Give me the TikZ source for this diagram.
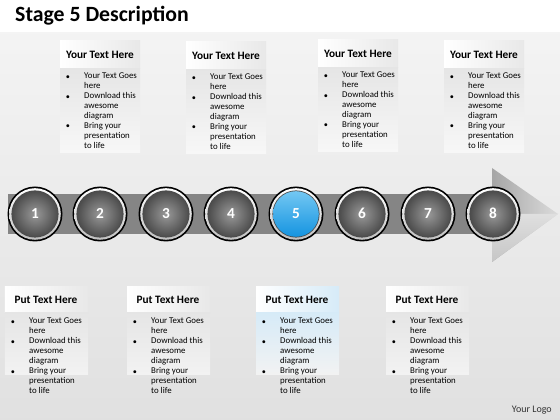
\documentclass[tikz,border=0pt]{standalone}
\usepackage{fontspec}
\setmainfont{Carlito}
\usetikzlibrary{positioning}
\definecolor{shaftdark}{rgb}{0.52, 0.52, 0.52}
\definecolor{shaftlight}{rgb}{0.85, 0.85, 0.85}
\definecolor{knobdark}{rgb}{0.3, 0.3, 0.3}
\definecolor{knoblight}{rgb}{0.6, 0.6, 0.6}
\definecolor{bluedark}{rgb}{0.08, 0.58, 0.88}
\definecolor{bluelight}{rgb}{0.45, 0.78, 0.95}
\definecolor{paleblue}{rgb}{0.84, 0.92, 0.97}
\tikzset{
  headtext/.style = {font = \bfseries\fontsize{9.6}{11}\selectfont, inner sep = 0},
  bodytext/.style = {font = \fontsize{7.5}{8.45}\selectfont, align = left, anchor = north west, inner sep = 0},
  dot/.style = {font = \fontsize{7}{8.45}\selectfont, inner sep = 0},
  stage/.style = {circle, inner sep = 0, minimum size = 46pt, text height = 8.5pt, text depth = 0pt, font = \bfseries\fontsize{13}{14}\selectfont, text = white}
}
\newcommand{\bodylines}{Your Text Goes\\here\\Download this\\awesome\\diagram\\Bring your\\presentation\\to life}

\begin{document}
\begin{tikzpicture}[x = 0.85pt, y = 0.85pt]
  \useasboundingbox (0, 0) rectangle (560, 420);
  \fill [white] (0, 0) rectangle (560, 420);
  \shade [top color = gray!9, bottom color = gray!24] (0, 0) rectangle (560, 387);

  \node [anchor = base west, inner sep = 0, font = \bfseries\fontsize{18.5}{20}\selectfont] (title) at (15, 398) {Stage 5 Description};

  % upper boxes
  \foreach \x/\y/\n in {60/379/1, 186/378/2, 318/380/3, 444/379/4} {
    \shade [left color = white, right color = gray!18] (\x, \y) rectangle (\x + 80, \y - 28);
    \shade [top color = gray!20, bottom color = gray!6] (\x, \y - 28) rectangle (\x + 80, \y - 112);
    \node [headtext] (th\n) at (\x + 40, \y - 14) {Your Text Here};
    \node [bodytext] (tb\n) at (\x + 24, \y - 32) {\bodylines};
    \foreach \k in {0, 2, 5} {
      \node [dot] at (\x + 8, \y - 36.5 - 9.9 * \k) {•};
    }
  }

  % lower boxes
  \foreach \x/\hc/\bc/\n in {5/gray!18/gray!20/1, 127/gray!18/gray!20/2, 256/paleblue/paleblue/3, 386/gray!18/gray!20/4} {
    \shade [left color = white, right color = \hc] (\x, 133) rectangle (\x + 83, 107);
    \shade [top color = \bc, bottom color = gray!10] (\x, 107) rectangle (\x + 83, 45);
    \node [headtext] (bh\n) at (\x + 41, 120) {Put Text Here};
    \node [bodytext] (bb\n) at (\x + 24, 102) {\bodylines};
    \foreach \k in {0, 2, 5} {
      \node [dot] at (\x + 8, 97 - 9.9 * \k) {•};
    }
  }

  % arrow
  \shade [top color = shaftdark, middle color = shaftlight, bottom color = shaftdark] (8, 186) rectangle (493, 225);
  \shade [left color = gray!70, right color = gray!28] (492, 252) -- (558, 206) -- (492, 158) -- cycle;
  \shade [top color = gray!25, bottom color = gray!45] (492, 206) -- (558, 206) -- (492, 158) -- cycle;

  \foreach \x [count = \i] in {35, 100, 166, 231, 296, 362, 428, 493} {
    \fill [black] (\x, 206) circle (27.5);
    \shade [top color = white, bottom color = gray!50] (\x, 206) circle (25.8);
    \fill [black!70] (\x, 206) circle (23.6);
    \ifnum\i=5
      \shade [top color = bluelight, bottom color = bluedark] (\x, 206) circle (22.8);
    \else
      \shade [inner color = knoblight, outer color = knobdark] (\x, 206) circle (22.8);
    \fi
    \node [stage] (s\i) at (\x, 206) {\i};
  }

  \node [anchor = base east, inner sep = 0, font = \fontsize{8.5}{9}\selectfont, text = black!80] (logo) at (552, 7) {Your Logo};
\end{tikzpicture}
\end{document}
